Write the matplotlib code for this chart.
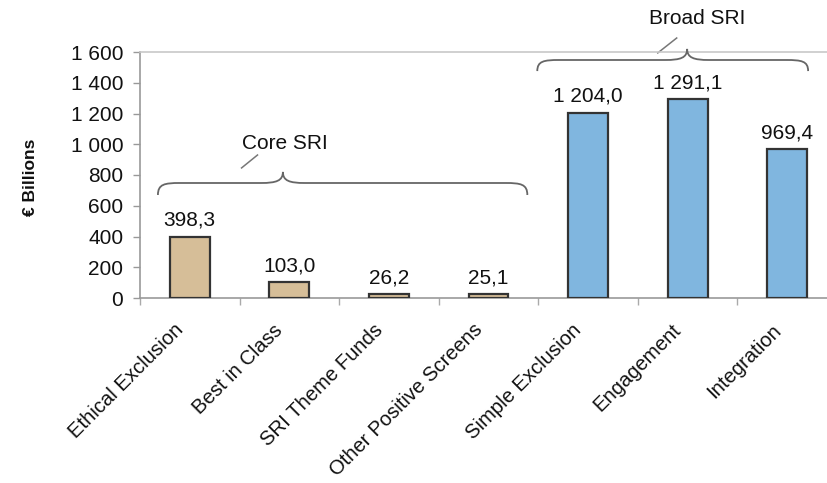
import matplotlib
matplotlib.use("Agg")
import matplotlib.pyplot as plt
import matplotlib.transforms as mtransforms
from matplotlib.path import Path
from matplotlib.patches import PathPatch

plt.rcParams['font.family'] = ['Liberation Sans', 'DejaVu Sans']

categories = ["Ethical Exclusion", "Best in Class", "SRI Theme Funds",
              "Other Positive Screens", "Simple Exclusion", "Engagement",
              "Integration"]
values = [398.3, 103.0, 26.2, 25.1, 1204.0, 1291.1, 969.4]
groups = ["core", "core", "core", "core", "broad", "broad", "broad"]
yticks = [0, 200, 400, 600, 800, 1000, 1200, 1400, 1600]

colors = {"core": "#D6BE98", "broad": "#80B6DF"}
text_color = "#111111"
FS = 15


def fmt(v, decimals=1):
    s = f"{v:,.{decimals}f}"
    return s.replace(",", " ").replace(".", ",")


fig = plt.figure(figsize=(8.28, 4.83), dpi=100)
ax = fig.add_axes([140 / 828, 185 / 483, 697 / 828, 246 / 483])

x = list(range(len(categories)))
ax.bar(x, values, width=0.4, color=[colors[g] for g in groups],
       edgecolor="#333333", linewidth=1.6, zorder=3)

for xi, v in zip(x, values):
    ax.annotate(fmt(v), (xi, v), xytext=(0, 5), textcoords="offset points",
                ha="center", va="bottom", fontsize=FS, color=text_color)

ax.set_xlim(-0.5, 6.5)
ax.set_ylim(0, 1600)
ax.set_yticks(yticks)
ax.set_yticklabels([fmt(t, 0) for t in yticks], fontsize=FS, color=text_color)
ax.tick_params(axis="y", length=5, color="#999999", width=1, pad=7)

ax.set_xticks(x)
ax.set_xticklabels(categories, rotation=45, ha="right", va="top",
                   rotation_mode="anchor", fontsize=14.6, color=text_color)
ax.tick_params(axis="x", which="major", length=0, pad=10)
shift = mtransforms.ScaledTranslation(-0.16, -0.085, fig.dpi_scale_trans)
for lbl in ax.get_xticklabels():
    lbl.set_transform(lbl.get_transform() + shift)
ax.set_xticks([i - 0.5 for i in range(len(categories) + 1)], minor=True)
ax.tick_params(axis="x", which="minor", length=5, color="#aaaaaa", width=1)

for side in ["left", "bottom"]:
    ax.spines[side].set_color("#999999")
    ax.spines[side].set_linewidth(1.2)
ax.spines["top"].set_color("#c8c8c8")
ax.spines["top"].set_linewidth(1.2)
ax.spines["right"].set_visible(False)

ax.set_ylabel("€ Billions", fontsize=12.5, fontweight="bold",
              color=text_color)
ax.yaxis.set_label_coords(-0.147, 0.49)


def brace(ax, x0, x1, xm, y_end, y_flat, y_peak, curl):
    verts = [
        (x0, y_end),
        (x0, y_flat - (y_flat - y_end) * 0.1), (x0 + curl * 0.3, y_flat), (x0 + curl, y_flat),
        (xm - curl, y_flat),
        (xm - curl * 0.3, y_flat), (xm, y_flat + (y_peak - y_flat) * 0.2), (xm, y_peak),
        (xm, y_flat + (y_peak - y_flat) * 0.2), (xm + curl * 0.3, y_flat), (xm + curl, y_flat),
        (x1 - curl, y_flat),
        (x1 - curl * 0.3, y_flat), (x1, y_flat - (y_flat - y_end) * 0.1), (x1, y_end),
    ]
    codes = [Path.MOVETO,
             Path.CURVE4, Path.CURVE4, Path.CURVE4,
             Path.LINETO,
             Path.CURVE4, Path.CURVE4, Path.CURVE4,
             Path.CURVE4, Path.CURVE4, Path.CURVE4,
             Path.LINETO,
             Path.CURVE4, Path.CURVE4, Path.CURVE4]
    ax.add_patch(PathPatch(Path(verts, codes), fill=False, edgecolor="#666666",
                           linewidth=1.3, clip_on=False, zorder=4))


brace(ax, -0.32, 3.39, 0.935, 670, 748, 820, 0.22)
brace(ax, 3.49, 6.21, 4.995, 1476, 1548, 1620, 0.22)

ax.plot([0.52, 0.68], [846, 930], color="#777777", lw=1.1, clip_on=False)
ax.plot([4.70, 4.89], [1594, 1691], color="#777777", lw=1.1, clip_on=False)

ax.text(0.955, 1008, "Core SRI", ha="center", va="center", fontsize=FS,
        color=text_color)
ax.text(5.095, 1821, "Broad SRI", ha="center", va="center", fontsize=FS,
        color=text_color)

fig.savefig("out.png", dpi=100, facecolor="white")
